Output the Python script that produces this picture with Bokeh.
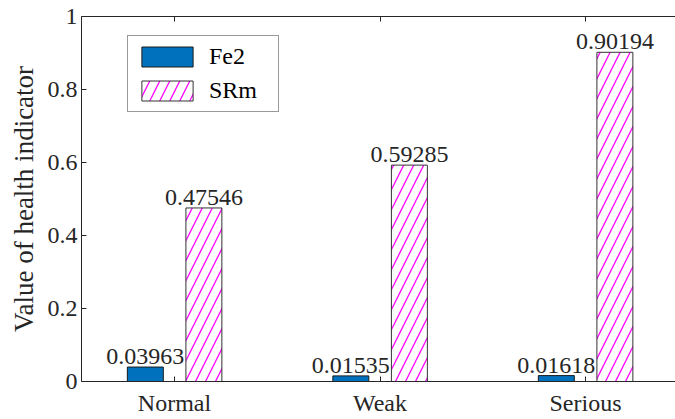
from bokeh.plotting import figure
from bokeh.models import (Range1d, FixedTicker, CustomJSTickFormatter, LinearAxis,
                          ColumnDataSource, Legend, LegendItem)
from bokeh.transform import dodge
from bokeh.core.properties import value
from bokeh.embed import file_html
from bokeh.resources import INLINE

categories = ["Normal", "Weak", "Serious"]
fe2 = [0.03963, 0.01535, 0.01618]
srm = [0.47546, 0.59285, 0.90194]
series_names = ["Fe2", "SRm"]
y_ticks = [0, 0.2, 0.4, 0.6, 0.8, 1.0]

FONT = "Liberation Serif"
TXT = "#262626"
FS = "24px"

xpos = [i + 1 for i in range(len(categories))]
src = ColumnDataSource(dict(
    x=xpos, fe2=fe2, srm=srm,
    fe2_lbl=[str(v) for v in fe2], srm_lbl=[str(v) for v in srm],
))

p = figure(width=675, height=419, output_backend="svg", toolbar_location=None,
           x_range=Range1d(0.5474, 3.438), y_range=Range1d(0, 1),
           min_border_left=81, min_border_right=0, min_border_top=16, min_border_bottom=38)
p.outline_line_color = None
p.grid.visible = False
p.background_fill_color = "white"

r1 = p.vbar(x=dodge("x", -0.142, range=p.x_range), top="fe2", width=0.175, source=src,
            fill_color="#0072BD", line_color="#1a1a1a", line_width=1)
r2 = p.vbar(x=dodge("x", 0.143, range=p.x_range), top="srm", width=0.175, source=src,
            fill_color="white", line_color="#333333", line_width=1,
            hatch_pattern="/", hatch_color="#FF00FF", hatch_weight=1.3, hatch_scale=20)

p.text(x=dodge("x", -0.142, range=p.x_range), y="fe2", text="fe2_lbl", source=src,
       text_align="center", text_baseline="bottom", y_offset=-3,
       text_font=value(FONT), text_font_size=FS, text_color=TXT)
p.text(x=dodge("x", 0.143, range=p.x_range), y="srm", text="srm_lbl", source=src,
       text_align="center", text_baseline="bottom", y_offset=-3,
       text_font=value(FONT), text_font_size=FS, text_color=TXT)

def style(ax):
    ax.axis_line_color = TXT
    ax.major_tick_line_color = TXT
    ax.major_tick_in = 5
    ax.major_tick_out = 0
    ax.minor_tick_line_color = None
    ax.major_label_text_font = FONT
    ax.major_label_text_font_size = FS
    ax.major_label_text_color = TXT

xa = p.xaxis[0]
xa.ticker = FixedTicker(ticks=xpos)
xa.formatter = CustomJSTickFormatter(args=dict(labels=categories),
                                     code="return labels[Math.round(tick) - 1] || '';")
style(xa)
xa.major_label_standoff = 8

ya = p.yaxis[0]
ya.ticker = FixedTicker(ticks=y_ticks)
ya.formatter = CustomJSTickFormatter(code="return tick.toFixed(1).replace(/\\.0$/, '');")
style(ya)
ya.major_label_standoff = 4
ya.axis_label = "Value of health indicator"
ya.axis_label_text_font = FONT
ya.axis_label_text_font_size = "27px"
ya.axis_label_text_font_style = "normal"
ya.axis_label_text_color = TXT
ya.axis_label_standoff = 6

top = LinearAxis(ticker=FixedTicker(ticks=xpos),
                 formatter=CustomJSTickFormatter(code="return '';"))
style(top)
top.major_label_standoff = 0
p.add_layout(top, "above")

legend = Legend(items=[LegendItem(label=series_names[0], renderers=[r1]),
                       LegendItem(label=series_names[1], renderers=[r2])],
                location=(46, 269))
legend.border_line_color = "#333333"
legend.border_line_width = 1
legend.label_text_font = FONT
legend.label_text_font_size = FS
legend.label_text_color = "black"
legend.glyph_width = 64
legend.glyph_height = 25
legend.padding = 7
legend.spacing = 7
legend.label_standoff = 10
legend.label_width = 62
legend.margin = 0
legend.label_height = 25
p.add_layout(legend, "center")

open("out.html", "w").write(file_html(p, INLINE))
